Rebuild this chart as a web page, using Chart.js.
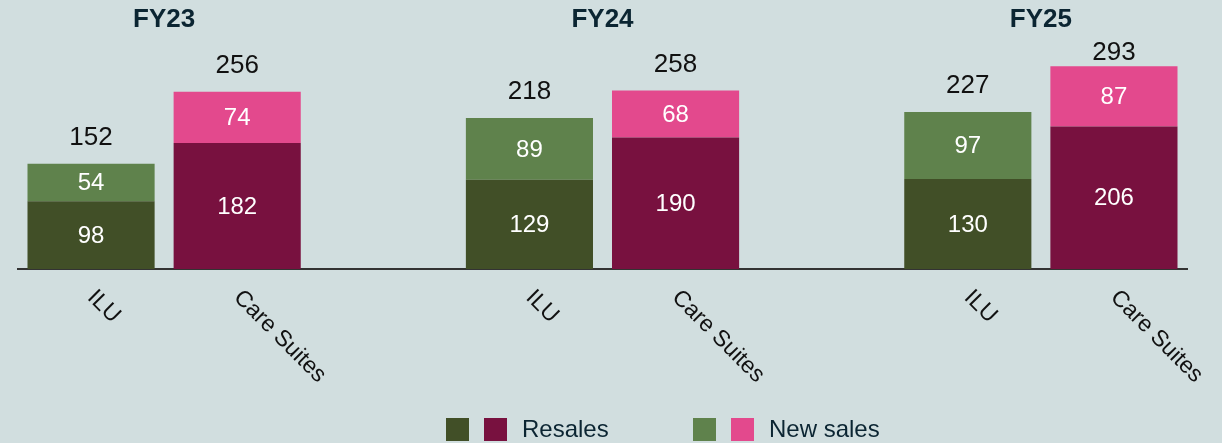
<!DOCTYPE html>
<html>
<head>
<meta charset="utf-8">
<script src="https://cdn.jsdelivr.net/npm/chart.js@4.4.1/dist/chart.umd.min.js"></script>
<style>
  html, body { margin: 0; padding: 0; background: #d1dedf; }
  #wrap { width: 1222px; height: 443px; }
</style>
</head>
<body>
<div id="wrap"><canvas id="salesChart" width="1222" height="443"></canvas></div>
<script>
// bars: ILU / Care Suites per year, blank slot between the years
const categories = ['ILU', 'Care Suites', '', 'ILU', 'Care Suites', '', 'ILU', 'Care Suites'];
const years = ['FY23', 'FY24', 'FY25'];
const resales = [98, 182, null, 129, 190, null, 130, 206];
const newSales = [54, 74, null, 89, 68, null, 97, 87];

const resaleColors = { 'ILU': '#414f27', 'Care Suites': '#78113f' };
const newColors = { 'ILU': '#5f824c', 'Care Suites': '#e3498d' };
const FONT = "'Liberation Sans', Arial, sans-serif";

const labelPlugin = {
  id: 'labelPlugin',
  afterDatasetsDraw(chart) {
    const ctx = chart.ctx;
    const x = chart.scales.x;
    ctx.save();
    // segment values
    ctx.textAlign = 'center'; ctx.textBaseline = 'middle';
    ctx.fillStyle = '#ffffff'; ctx.font = '24px ' + FONT;
    chart.data.datasets.forEach((ds, di) => {
      chart.getDatasetMeta(di).data.forEach((bar, i) => {
        if (ds.data[i] == null) return;
        ctx.fillText(ds.data[i], bar.x, (bar.y + bar.base) / 2 + 1);
      });
    });
    // totals
    ctx.fillStyle = '#111111'; ctx.font = '26px ' + FONT;
    const top = chart.getDatasetMeta(1).data;
    categories.forEach((c, i) => {
      if (resales[i] == null) return;
      const y = Math.max(top[i].y - 26, 53);
      ctx.fillText(resales[i] + newSales[i], top[i].x, y);
    });
    // year headers
    ctx.fillStyle = '#0b2532'; ctx.font = 'bold 26px ' + FONT;
    years.forEach((yr, k) => {
      const cx = (x.getPixelForValue(k * 3) + x.getPixelForValue(k * 3 + 1)) / 2;
      ctx.fillText(yr, cx, 20);
    });
    // rotated category labels
    ctx.fillStyle = '#111111'; ctx.font = '23px ' + FONT;
    ctx.textAlign = 'left';
    categories.forEach((c, i) => {
      if (!c) return;
      ctx.save();
      ctx.translate(x.getPixelForValue(i), 294);
      ctx.rotate(Math.PI / 4);
      ctx.fillText(c, 0, 0);
      ctx.restore();
    });
    // legend
    const items = [
      { cols: [resaleColors['ILU'], resaleColors['Care Suites']], text: 'Resales', x: 446 },
      { cols: [newColors['ILU'], newColors['Care Suites']], text: 'New sales', x: 693 }
    ];
    ctx.font = '24px ' + FONT; ctx.textBaseline = 'middle';
    items.forEach(it => {
      it.cols.forEach((col, j) => {
        ctx.fillStyle = col;
        ctx.fillRect(it.x + j * 38, 418, 23, 23);
      });
      ctx.fillStyle = '#0b2532';
      ctx.fillText(it.text, it.x + 76, 430);
    });
    ctx.restore();
  }
};

new Chart(document.getElementById('salesChart'), {
  type: 'bar',
  data: {
    labels: categories,
    datasets: [
      { label: 'Resales', data: resales, backgroundColor: categories.map(c => resaleColors[c] || '#000') },
      { label: 'New sales', data: newSales, backgroundColor: categories.map(c => newColors[c] || '#000') }
    ]
  },
  options: {
    responsive: false,
    animation: false,
    categoryPercentage: 1,
    barPercentage: 0.87,
    layout: { padding: { left: 18, right: 35, top: 6, bottom: 174 } },
    plugins: { legend: { display: false }, tooltip: { enabled: false } },
    scales: {
      x: {
        stacked: true, z: 1,
        grid: { display: false, drawTicks: false },
        ticks: { display: false },
        border: { color: '#333333', width: 2 }
      },
      y: { stacked: true, display: false, min: 0, max: 380 }
    }
  },
  plugins: [labelPlugin]
});
</script>
</body>
</html>
